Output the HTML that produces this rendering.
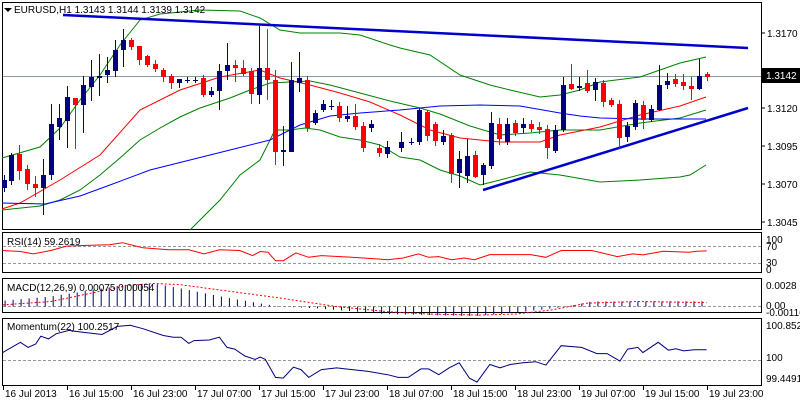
<!DOCTYPE html>
<html><head><meta charset="utf-8"><style>
html,body{margin:0;padding:0;background:#fff;width:800px;height:400px;overflow:hidden}
svg{display:block;font-family:"Liberation Sans",sans-serif;font-size:10px}
</style></head><body>
<svg id="s" width="800" height="400" xmlns="http://www.w3.org/2000/svg"></svg>
<script>
const S=document.getElementById('s');let h='';
function pl(pts,st){return '<polyline fill="none" points="'+pts.map(p=>p[0]+','+p[1]).join(' ')+'" '+st+'/>';}
// panels
h+='<rect x="2.5" y="2.5" width="759" height="227" fill="none" stroke="#000"/>';
h+='<rect x="2.5" y="232.5" width="759" height="40" fill="none" stroke="#000"/>';
h+='<rect x="2.5" y="278.5" width="759" height="34" fill="none" stroke="#000"/>';
h+='<rect x="2.5" y="318.5" width="759" height="67" fill="none" stroke="#000"/>';
// main price grid line
h+='<line x1="3" y1="76.5" x2="761" y2="76.5" stroke="#8899aa"/>';
// BB & MAs
const up=[[2,158],[40,147],[60,128],[80,100],[100,75],[120,45],[140,20],[160,14],[200,10],[240,11],[260,18],[280,30],[300,33],[340,33],[360,35],[390,45],[400,48],[430,55],[460,75],[490,85],[510,90],[540,97],[560,95],[580,90],[600,82],[640,77],[680,63],[706,57]];
const mid=[[2,210],[40,206],[60,200],[80,190],[100,175],[120,158],[140,140],[160,128],[180,117],[200,108],[230,98],[250,90],[270,83],[290,82],[310,81],[330,85],[360,93],[390,101],[420,108],[440,114],[470,126],[500,135],[530,133],[560,130],[600,130],[640,123],[680,118],[706,110]];
const lo=[[190,230],[220,200],[240,175],[260,160],[275,130],[290,130],[305,128],[320,130],[340,137],[360,140],[380,145],[400,157],[420,160],[440,170],[460,176],[480,185],[500,180],[530,172],[560,175],[600,182],[640,180],[680,177],[690,175],[706,165]];
const red=[[2,209],[20,203],[60,180],[100,155],[140,110],[180,90],[220,77],[260,70],[280,78],[310,85],[340,93],[370,102],[400,115],[430,130],[460,138],[500,142],[540,142],[560,135],[600,127],[640,115],[680,106],[706,97]];
const blu=[[2,203],[45,204],[80,196],[110,185],[150,170],[190,160],[230,150],[270,140],[300,125],[330,116],[360,113],[400,110],[440,106],[480,105],[520,106],[560,113],[580,116],[600,118],[640,119],[706,119]];
h+=pl(up,'stroke="#008000"')+pl(mid,'stroke="#008000"')+pl(lo,'stroke="#008000"')+pl(red,'stroke="#ff0000"')+pl(blu,'stroke="#0000ff"');
// trendlines
h+='<line x1="63" y1="15" x2="748" y2="48" stroke="#0000cc" stroke-width="2.5"/>';
h+='<line x1="483" y1="190" x2="748" y2="108" stroke="#0000cc" stroke-width="2.5"/>';
// candles: x, bodyTop, bodyBot, wickTop, wickBot, color(b/r/c)
const C=[[4,180,188,175,192,'b'],[11,155,181,153,185,'b'],[19,154,171,145,180,'r'],[27,169,184,165,190,'r'],[35,184,188,176,197,'r'],[43,175,188,159,215,'b'],[51,124,175,104,180,'b'],[59,118,127,104,140,'b'],[67,97,121,86,148,'b'],[75,98,105,98,149,'r'],[83,85,105,76,133,'b'],[91,77,87,60,101,'b'],[99,76,78,54,96,'b'],[107,70,75,57,83,'b'],[115,50,71,40,77,'b'],[123,40,50,29,67,'b'],[131,40,47,38,50,'r'],[139,46,60,46,65,'r'],[147,56,65,55,67,'r'],[155,64,69,60,72,'r'],[163,70,77,68,82,'r'],[171,76,83,74,89,'r'],[179,79,83,79,88,'b'],[187,80,80,77,83,'c'],[195,80,80,77,83,'c'],[203,78,95,75,97,'r'],[211,91,95,87,97,'b'],[219,71,91,64,110,'b'],[227,65,71,43,80,'b'],[235,65,68,60,82,'r'],[243,68,74,60,76,'r'],[251,71,94,68,104,'r'],[259,68,95,26,104,'b'],[267,68,80,29,100,'r'],[275,80,152,70,165,'r'],[283,150,152,126,166,'b'],[291,80,152,62,152,'b'],[299,78,83,52,92,'b'],[307,80,128,76,132,'r'],[315,113,123,110,125,'b'],[323,104,110,100,112,'b'],[331,106,106,100,110,'c'],[339,106,118,102,122,'r'],[347,116,119,106,122,'b'],[355,116,127,104,130,'r'],[363,126,148,122,152,'r'],[371,124,128,120,132,'b'],[379,148,153,144,157,'r'],[387,147,154,141,158,'b'],[401,142,148,132,152,'b'],[411,142,142,138,145,'c'],[419,110,142,108,145,'b'],[427,112,136,110,141,'r'],[435,124,141,122,146,'r'],[443,136,142,130,145,'b'],[451,135,174,133,183,'r'],[459,159,173,151,188,'b'],[467,156,176,139,183,'b'],[475,155,177,151,178,'r'],[483,165,175,163,185,'b'],[491,123,166,112,169,'b'],[499,124,139,118,145,'r'],[507,124,142,118,145,'b'],[515,123,133,120,136,'r'],[523,124,128,118,133,'b'],[531,124,129,120,132,'r'],[539,127,130,122,134,'r'],[547,129,148,125,159,'r'],[555,130,151,125,153,'b'],[563,85,130,77,132,'b'],[571,84,89,64,90,'r'],[579,86,88,77,91,'b'],[587,83,91,70,93,'r'],[595,82,90,78,101,'b'],[603,83,102,80,107,'r'],[611,100,105,98,107,'r'],[619,104,138,100,148,'r'],[627,126,137,122,142,'b'],[635,103,127,100,130,'b'],[643,105,120,101,129,'r'],[651,109,120,105,122,'b'],[659,85,110,65,111,'b'],[667,81,85,73,89,'b'],[675,79,84,74,87,'r'],[683,82,86,74,90,'r'],[691,86,89,77,100,'r'],[699,76,89,59,90,'b'],[707,74,77,72,81,'r']];
C.forEach(c=>{const col=c[5]=='r'?'#ff0000':'#000080';
h+='<line x1="'+(c[0]+.5)+'" y1="'+c[3]+'" x2="'+(c[0]+.5)+'" y2="'+c[4]+'" stroke="'+col+'"/>';
const bh=Math.max(1,c[2]-c[1]);h+='<rect x="'+(c[0]-2)+'" y="'+c[1]+'" width="5" height="'+bh+'" fill="'+col+'"/>';});
// price axis
[[33,'1.3170'],[71,'1.3145'],[108,'1.3120'],[146,'1.3095'],[184,'1.3070'],[222,'1.3045']].forEach(t=>{h+='<line x1="762" y1="'+t[0]+'" x2="765" y2="'+t[0]+'" stroke="#000"/><text x="767" y="'+(t[0]+4)+'">'+t[1]+'</text>';});
h+='<rect x="762" y="68" width="38" height="15" fill="#000"/><text x="766" y="79" fill="#fff">1.3142</text>';
h+='<path d="M4 8 L12 8 L8 12Z" fill="#000"/><text x="14" y="13">EURUSD,H1  1.3143 1.3144 1.3139 1.3142</text>';
// RSI
const T=(a)=>a.map(p=>[+(p[0]/1.96).toFixed(1),+(225+p[1]/2.94).toFixed(1)]);
h+='<line x1="3" y1="246.5" x2="761" y2="246.5" stroke="#999" stroke-dasharray="3,2"/><line x1="3" y1="263.5" x2="761" y2="263.5" stroke="#999" stroke-dasharray="3,2"/>';
const rsi=[[5,75],[40,78],[65,85],[100,75],[130,62],[170,60],[215,58],[240,52],[280,67],[330,73],[370,73],[400,85],[430,73],[470,75],[495,90],[510,78],[525,80],[540,105],[555,105],[580,82],[605,95],[630,90],[690,95],[760,102],[790,97],[820,85],[840,95],[860,93],[885,102],[910,97],[930,102],[960,87],[1000,87],[1040,87],[1070,95],[1100,75],[1160,75],[1210,93],[1240,85],[1260,88],[1300,77],[1350,80],[1365,77],[1385,76]];
h+=pl(T(rsi),'stroke="#ff0000"');
h+='<text x="7" y="245">RSI(14) 59.2619</text>';
[[240,'100'],[247,'70'],[263,'30'],[270,'0']].forEach(t=>h+='<text x="766" y="'+(t[0]+3)+'">'+t[1]+'</text>');
// MACD
h+='<line x1="3" y1="306.5" x2="761" y2="306.5" stroke="#999" stroke-dasharray="3,2"/>';
function hist(x){const pts=[[10,222],[100,210],[250,175],[300,172],[350,185],[450,215],[540,238],[560,240],[620,245],[760,262],[930,268],[1010,258],[1110,240],[1160,225],[1385,224]];
for(let i=0;i<pts.length-1;i++){if(x>=pts[i][0]&&x<=pts[i+1][0]){const t=(x-pts[i][0])/(pts[i+1][0]-pts[i][0]);return pts[i][1]+t*(pts[i+1][1]-pts[i][1]);}}return 240;}
for(let zx=10;zx<=1385;zx+=15.7){const x=(zx/1.96);const y=225+hist(zx)/2.94;h+='<line x1="'+x.toFixed(1)+'" y1="306.5" x2="'+x.toFixed(1)+'" y2="'+y.toFixed(1)+'" stroke="#000080"/>';}
const sig=[[5,235],[100,225],[180,200],[250,178],[300,172],[350,175],[450,195],[550,215],[660,240],[760,255],[840,262],[940,265],[1010,262],[1080,250],[1150,230],[1250,225],[1385,228]];
h+=pl(T(sig),'stroke="#ff0000" stroke-dasharray="2,2"');
h+='<text x="7" y="291">MACD(12,26,9) 0.00075 0.00054</text>';
h+='<text x="766" y="289">0.0028</text><text x="766" y="309">0.00</text><text x="766" y="316">-0.00116</text>';
// Momentum
h+='<line x1="3" y1="360.5" x2="761" y2="360.5" stroke="#999" stroke-dasharray="3,2"/>';
const mom=[[5,375],[40,345],[55,360],[70,350],[80,327],[95,335],[110,320],[135,310],[160,315],[200,322],[230,298],[255,295],[280,305],[320,325],[340,330],[355,330],[370,348],[380,340],[410,338],[430,330],[445,360],[460,365],[480,385],[500,395],[510,388],[520,395],[540,448],[555,450],[575,418],[590,425],[605,448],[630,425],[660,420],[690,425],[720,430],[760,440],[780,448],[800,448],[825,423],[840,423],[860,440],[880,420],[900,405],[920,450],[935,462],[960,410],[980,420],[1000,410],[1025,405],[1050,402],[1070,412],[1100,355],[1140,360],[1170,378],[1190,378],[1215,400],[1230,365],[1250,360],[1260,375],[1290,345],[1310,368],[1325,364],[1340,370],[1360,367],[1385,367]];
h+=pl(T(mom),'stroke="#000080"');
h+='<text x="7" y="330">Momentum(22) 100.2517</text>';
h+='<text x="766" y="329">100.8526</text><text x="766" y="361">100</text><text x="766" y="382">99.4491</text>';
// time axis
['16 Jul 2013','16 Jul 15:00','16 Jul 23:00','17 Jul 07:00','17 Jul 15:00','17 Jul 23:00','18 Jul 07:00','18 Jul 15:00','18 Jul 23:00','19 Jul 07:00','19 Jul 15:00','19 Jul 23:00'].forEach((t,i)=>{const x=3+i*64;h+='<line x1="'+(x+.5)+'" y1="386" x2="'+(x+.5)+'" y2="390" stroke="#000"/><text x="'+(x+2)+'" y="397">'+t+'</text>';});
S.innerHTML=h;
</script>
</body></html>
